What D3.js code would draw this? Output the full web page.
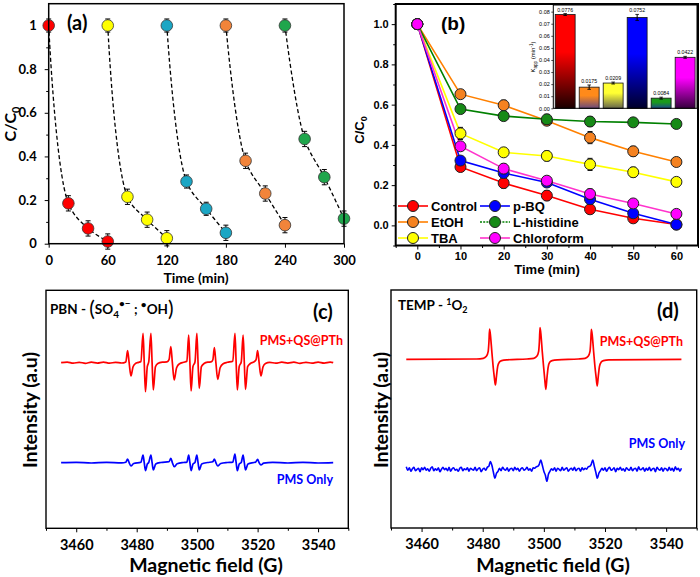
<!DOCTYPE html>
<html><head><meta charset="utf-8">
<script src="https://cdn.jsdelivr.net/npm/d3@7/dist/d3.min.js"></script>
<style>html,body{margin:0;padding:0;background:#fff}svg{display:block}</style>
</head><body>
<svg id="chart" width="700" height="577"></svg>
<script>
// ================= DATA =================
// Panel (a): five reuse cycles
const cycleTimes = [[0,20,40,60],[60,80,100,120],[120,140,160,180],[180,200,220,240],[240,260,280,300]];
const cycleValues = [[1,0.185,0.07,0.01],[1,0.215,0.11,0.025],[1,0.285,0.16,0.05],[1,0.38,0.23,0.085],[1,0.48,0.305,0.115]];
const cycleErrs = [[0.03,0.035,0.035,0.035],[0.03,0.035,0.035,0.035],[0.03,0.03,0.03,0.035],[0.03,0.035,0.035,0.035],[0.03,0.035,0.035,0.035]];
const cycleColors = ["#ff0000","#ffff00","#1ba6c4","#f2843a","#1fa64c"];
const aXTicks = [0,60,120,180,240,300];
const aYTicks = [0,0.2,0.4,0.6,0.8,1];

// Panel (b): scavenger tests
const scavTimes = [0,10,20,30,40,50,60];
const scavNames = ["Control","EtOH","TBA","p-BQ","L-histidine","Chloroform"];
const controlVals = [1,0.29,0.21,0.148,0.08,0.035,0.004];
const etohVals    = [1,0.652,0.597,0.52,0.436,0.368,0.315];
const tbaVals     = [1,0.457,0.363,0.345,0.303,0.264,0.216];
const pbqVals     = [1,0.322,0.26,0.213,0.13,0.06,0.004];
const histVals    = [1,0.578,0.543,0.527,0.516,0.512,0.504];
const chloroVals  = [1,0.393,0.282,0.222,0.156,0.109,0.057];
const controlErr = [0,0.015,0.025,0.025,0.02,0.015,0.01];
const etohErr    = [0,0.02,0.025,0.02,0.03,0.025,0.015];
const tbaErr     = [0,0.03,0.02,0.025,0.03,0.025,0.015];
const pbqErr     = [0,0.02,0.02,0.02,0.025,0.02,0.01];
const histErr    = [0,0.02,0.02,0.025,0.025,0.02,0.015];
const chloroErr  = [0,0.02,0.025,0.02,0.025,0.02,0.015];
const scavLineColors = ["#ff0000","#ff8000","#ffff00","#0000ff","#008000","#ff33cc"];
const scavFillColors = ["#ff0000","#f58220","#ffff00","#0000ff","#168a16","#ff00ff"];
const bXTicks = [0,10,20,30,40,50,60];
const bYTicks = [0,0.2,0.4,0.6,0.8,1.0];

// Inset: apparent rate constants
const kValues = [0.0776,0.0175,0.0209,0.0752,0.0084,0.0422];
const kErrs   = [0.0008,0.0018,0.0008,0.0025,0.0008,0.0008];
const kLabels = ["0.0776","0.0175","0.0209","0.0752","0.0084","0.0422"];
const kTopColors = ["#ff0000","#ff8a1a","#ffff33","#0000ff","#1a9a1a","#ff00ff"];
const kBottomColors = ["#1a0000","#6a4a7a","#66664a","#00002a","#1a4a8a","#36003e"];
const kTicks = [0,0.01,0.02,0.03,0.04,0.05,0.06,0.07,0.08];

// Panel (c): PBN spin trap, [field G, relative intensity]
const pbnRed = [
[3455,0],[3457,0.6],[3459,-0.5],[3461,0.4],[3463,-0.6],[3465,0.5],[3467,-0.4],[3469,0.6],[3471,-0.5],[3473,0.4],[3475,-0.3],[3476.4,0.8],
[3477.0,12],[3477.5,0],[3478.1,-13.3],[3478.8,-4],[3479.6,-0.8],[3480.6,0.3],[3481.4,1.2],
[3482.1,29.3],[3482.5,0],[3482.9,-29],[3483.5,-4],[3484.0,1],
[3484.7,29.3],[3485.1,0],[3485.5,-27.3],[3486.2,-4],[3487,-0.8],[3488.5,0.5],[3490,0.8],[3490.7,3],
[3491.3,16],[3491.8,0],[3492.4,-17.3],[3493.2,-5],[3494.2,-1],[3495.5,0.4],[3496.6,1.5],
[3497.2,27.7],[3497.6,0],[3498.0,-28.3],[3498.6,-4],[3499.3,1],
[3499.9,29.3],[3500.3,0],[3500.7,-25.7],[3501.4,-4],[3502.3,-0.8],[3503.5,0.5],[3504.6,0.8],[3505.2,3],
[3505.7,15],[3506.2,0],[3506.8,-16.7],[3507.6,-5],[3508.6,-1],[3510,0.4],[3511.8,1.5],
[3512.5,29.3],[3512.9,0],[3513.3,-27.3],[3513.9,-4],[3514.6,1],
[3515.2,27.7],[3515.6,0],[3516.0,-26.7],[3516.7,-4],[3517.6,-0.8],[3518.8,0.8],
[3519.5,3],[3520.0,12],[3520.5,0],[3521.1,-13.3],[3521.8,-4],[3522.6,-0.8],[3524,0.4],[3526,-0.5],[3528,0.5],[3530,-0.4],[3532,0.5],[3534,-0.6],[3536,0.4],[3538,-0.5],[3540,0.6],[3542,-0.4],[3544,0.5],[3545,0]
];
const pbnBlue = [
[3455,0],[3460,0.3],[3465,-0.3],[3470,0.3],[3475,-0.2],[3476.4,0.4],
[3477.0,3.7],[3477.5,0],[3478.1,-3.3],[3479,-0.8],[3481.4,0.4],
[3482.1,7.7],[3482.5,0],[3482.9,-8],[3483.5,-1.5],[3484.0,0.4],
[3484.7,7.7],[3485.1,0],[3485.5,-7.3],[3486.3,-1.2],[3488,0.2],[3490.7,1],
[3491.3,4.3],[3491.8,0],[3492.4,-4],[3493.4,-1],[3495.5,0.2],[3496.6,0.6],
[3497.2,7.7],[3497.6,0],[3498.0,-8],[3498.6,-1.5],[3499.3,0.4],
[3499.9,7.7],[3500.3,0],[3500.7,-7.3],[3501.5,-1.2],[3503.5,0.2],[3505.2,1],
[3505.7,3.7],[3506.2,0],[3506.8,-3.3],[3507.8,-0.8],[3510,0.2],[3511.8,0.6],
[3512.5,8.7],[3512.9,0],[3513.3,-8],[3513.9,-1.5],[3514.6,0.4],
[3515.2,7.7],[3515.6,0],[3516.0,-7.3],[3516.8,-1.2],[3519.4,0.8],
[3520.0,3.3],[3520.5,0],[3521.1,-2.3],[3522,-0.5],[3525,0.3],[3530,-0.3],[3535,0.3],[3540,-0.3],[3545,0]
];

// Panel (d): TEMP spin trap
const tempRed = [
[3455,0],[3478,0.3],[3480.2,1],[3481.2,3],[3481.8,8],[3482.05,18],[3482.25,30.3],[3482.6,22],[3483.0,7],[3483.2,0],[3483.4,-7],[3483.8,-18],[3484.15,-25.7],[3484.5,-17],[3484.9,-7],[3485.4,-3],[3486.2,-1.3],[3488,-0.5],
[3494.5,0.3],[3496.7,1],[3497.7,3],[3498.3,8],[3498.55,18],[3498.75,31.7],[3499.1,23],[3499.5,7],[3499.7,0],[3499.9,-7],[3500.3,-20],[3500.65,-30],[3501.0,-19],[3501.4,-8],[3501.9,-3],[3502.7,-1.3],[3504.5,-0.5],
[3511.3,0.3],[3513.5,1],[3514.5,3],[3515.1,8],[3515.35,18],[3515.55,30],[3515.9,22],[3516.3,7],[3516.5,0],[3516.7,-7],[3517.1,-18],[3517.45,-26.7],[3517.8,-17],[3518.2,-7],[3518.7,-3],[3519.5,-1.3],[3521.3,-0.5],
[3545,0]
];
const tempBlueStart = 3455, tempBlueStep = 0.5;
const tempBlue = [
 2.5,-1,1.5,-2,0.5,2,-1.5,0,1,-2.5,
 1.5,-0.5,2,-1,0.5,-2,1,2.5,-1.5,0.5,
 -1,1.5,-2.5,0,2,-0.5,1,-1.5,2,-2,
 0.5,1.5,-1,0,-2,1,2,-1.5,0.5,-0.5,
 1.5,-2,1,0,-1,2,-1.5,0.5,1.5,-2.5,
 0,1,-1,2,3,7.7,4,-3,-9,-4,
 -2,1,-1.5,2,0,-1,1.5,-2,0.5,1,
 -1.5,2,-0.5,1,-2,0.5,1.5,-1,0,2,
 -1,0.5,-2,1.5,1,2.5,3,5,9.3,4,
 -2,-6,-12,-5,-2,0.5,-1,1.5,-2,1,
 0,-1.5,2,-1,0.5,1.5,-2,0,1,-1,
 2,-1.5,0.5,1,-2,1.5,-0.5,1,0,2.5,
 3,5,9.3,3,-3,-9,-4,-1.5,1,-1,
 1.5,-2,0.5,2,-1,0,1.5,-2.5,1,-0.5,
 2,-1,0.5,-2,1.5,0,-1,2,-1.5,0.5,
 1,-2,2.5,-0.5,0,1.5,-2,1,-1,2,
 -1.5,0.5,1,-2.5,2,0,-1,1.5,-2,1,
 0.5,-1.5,2,-1,1,-2,2.5,-0.5,1,-2,
 1
];
const eprTicks = [3460,3480,3500,3520,3540];
const eprMinor = [3450,3470,3490,3510,3530,3550];

// ================= DRAWING =================
const svg = d3.select("#chart");
const FL = "Lato, 'Open Sans', sans-serif";
const FA = "'Liberation Sans', Arial, sans-serif";

function box(x0,y0,x1,y1,w){
  svg.append("rect").attr("x",x0).attr("y",y0).attr("width",x1-x0).attr("height",y1-y0)
    .attr("fill","none").attr("stroke","#000").attr("stroke-width",w);
}
function styleAxis(g,font,size,weight){
  g.select(".domain").remove();
  g.selectAll("text").attr("font-family",font).attr("font-size",size).attr("font-weight",weight).attr("fill","#000");
  g.selectAll("line").attr("stroke","#000").attr("stroke-width",1);
}
function errBars(g,xs,ys,es,sx,sy,cap){
  xs.forEach((t,i)=>{
    if(!es[i]) return;
    const x=sx(t), y1=sy(ys[i]+es[i]), y2=sy(ys[i]-es[i]);
    g.append("line").attr("x1",x).attr("x2",x).attr("y1",y1).attr("y2",y2).attr("stroke","#000").attr("stroke-width",1);
    [y1,y2].forEach(y=>g.append("line").attr("x1",x-cap).attr("x2",x+cap).attr("y1",y).attr("y2",y).attr("stroke","#000").attr("stroke-width",1));
  });
}

// ---------- Panel (a) ----------
const ax = d3.scaleLinear().domain([0,300]).range([48.7,344]);
const ay = d3.scaleLinear().domain([0,1.1]).range([243.7,3.7]);
{
  const g = svg.append("g");
  const gx = g.append("g").attr("transform","translate(0,243.7)")
    .call(d3.axisBottom(ax).tickValues(aXTicks).tickSize(4).tickPadding(8).tickFormat(d3.format("d")));
  styleAxis(gx,FL,13,700);
  const gy = g.append("g").attr("transform","translate(48.7,0)")
    .call(d3.axisLeft(ay).tickValues(aYTicks).tickSize(4).tickPadding(8).tickFormat(d3.format("~g")));
  styleAxis(gy,FL,13,700);
  const gm = g.append("g").attr("transform","translate(48.7,0)")
    .call(d3.axisLeft(ay).tickValues([0.1,0.3,0.5,0.7,0.9]).tickSize(2.5).tickFormat(""));
  styleAxis(gm,FL,13,700);
  box(48.7,3.7,344,243.7,1.5);
  const line = d3.line().x(d=>ax(d[0])).y(d=>ay(d[1])).curve(d3.curveCatmullRom.alpha(0.5));
  cycleTimes.forEach((ts,c)=>{
    g.append("path").attr("d",line(ts.map((t,i)=>[t,cycleValues[c][i]])))
      .attr("fill","none").attr("stroke","#000").attr("stroke-width",1.3).attr("stroke-dasharray","4,2.5");
  });
  cycleTimes.forEach((ts,c)=>{
    errBars(g,ts,cycleValues[c],cycleErrs[c],ax,ay,2.5);
    ts.forEach((t,i)=>{
      g.append("circle").attr("cx",ax(t)).attr("cy",ay(cycleValues[c][i])).attr("r",5.8)
        .attr("fill",cycleColors[c]).attr("stroke","#333").attr("stroke-width",0.8);
    });
  });
  g.append("text").attr("x",67).attr("y",30).attr("font-family",FL).attr("font-weight",700).attr("font-size",20).text("(a)");
  const yl = g.append("text").attr("transform","translate(16,124) rotate(-90)").attr("text-anchor","middle")
    .attr("font-family",FL).attr("font-weight",700).attr("font-size",16);
  yl.append("tspan").text("C/C");
  yl.append("tspan").attr("font-size",11).attr("dy",4).text("0");
  g.append("text").attr("x",196).attr("y",283).attr("text-anchor","middle").attr("font-family",FL)
    .attr("font-weight",700).attr("font-size",14).text("Time (min)");
}

// ---------- Panel (b) ----------
const bx = d3.scaleLinear().domain([-5,65]).range([395.7,698]);
const by = d3.scaleLinear().domain([-0.1,1.1]).range([245.5,4]);
{
  const g = svg.append("g");
  const gx = g.append("g").attr("transform","translate(0,245.5)")
    .call(d3.axisBottom(bx).tickValues(bXTicks).tickSize(4).tickPadding(2.5).tickFormat(d3.format("d")));
  styleAxis(gx,FA,11,700);
  const gxm = g.append("g").attr("transform","translate(0,245.5)")
    .call(d3.axisBottom(bx).tickValues([-5,5,15,25,35,45,55,65]).tickSize(2.5).tickFormat(""));
  styleAxis(gxm,FA,11,700);
  const gy = g.append("g").attr("transform","translate(395.7,0)")
    .call(d3.axisLeft(by).tickValues(bYTicks).tickSize(4).tickPadding(3).tickFormat(d3.format(".1f")));
  styleAxis(gy,FA,11,700);
  const gym = g.append("g").attr("transform","translate(395.7,0)")
    .call(d3.axisLeft(by).tickValues([-0.1,0.1,0.3,0.5,0.7,0.9,1.1]).tickSize(2.5).tickFormat(""));
  styleAxis(gym,FA,11,700);
  box(395.7,4,698,245.5,2);

  const series = [controlVals,etohVals,tbaVals,pbqVals,histVals,chloroVals];
  const errs = [controlErr,etohErr,tbaErr,pbqErr,histErr,chloroErr];
  const line = d3.line().x((d,i)=>bx(scavTimes[i])).y(d=>by(d));
  series.forEach((s,k)=>{
    g.append("path").attr("d",line(s)).attr("fill","none").attr("stroke",scavLineColors[k]).attr("stroke-width",1.6);
  });
  series.forEach((s,k)=>{
    errBars(g,scavTimes,s,errs[k],bx,by,2.5);
    s.forEach((v,i)=>g.append("circle").attr("cx",bx(scavTimes[i])).attr("cy",by(v)).attr("r",5.5)
      .attr("fill",scavFillColors[k]).attr("stroke","#222").attr("stroke-width",1));
  });
  // legend
  const legX = [398,480], legY = [206,222,238];
  scavNames.forEach((n,k)=>{
    const col = Math.floor(k/3), row = k%3;
    const x0 = legX[col], y0 = legY[row];
    g.append("line").attr("x1",x0).attr("x2",x0+30).attr("y1",y0).attr("y2",y0)
      .attr("stroke",scavLineColors[k]).attr("stroke-width",1.6).attr("stroke-dasharray",k===4?"2,1.2":null);
    g.append("circle").attr("cx",x0+15).attr("cy",y0).attr("r",5.5).attr("fill",scavFillColors[k]).attr("stroke","#222").attr("stroke-width",1);
    g.append("text").attr("x",x0+33).attr("y",y0+5).attr("font-family",FA).attr("font-weight",700).attr("font-size",13).text(n);
  });
  g.append("text").attr("x",441).attr("y",30).attr("font-family",FA).attr("font-weight",700).attr("font-size",19).text("(b)");
  const yl = g.append("text").attr("transform","translate(364,130) rotate(-90)").attr("text-anchor","middle")
    .attr("font-family",FA).attr("font-weight",700).attr("font-size",13);
  yl.append("tspan").text("C/C");
  yl.append("tspan").attr("font-size",9).attr("dy",3).text("0");
  g.append("text").attr("x",547).attr("y",274).attr("text-anchor","middle").attr("font-family",FA)
    .attr("font-weight",700).attr("font-size",13).text("Time (min)");

  // inset
  const ix = d3.scaleBand().domain(scavNames).range([553.3,697]).paddingInner(0.17).paddingOuter(0.08);
  const iy = d3.scaleLinear().domain([0,0.0855]).range([108.3,5]);
  const defs = svg.append("defs");
  kTopColors.forEach((c,i)=>{
    const lg = defs.append("linearGradient").attr("id","kg"+i).attr("x1",0).attr("y1",0).attr("x2",0).attr("y2",1);
    lg.append("stop").attr("offset","0%").attr("stop-color",c);
    lg.append("stop").attr("offset","40%").attr("stop-color",c);
    lg.append("stop").attr("offset","100%").attr("stop-color",kBottomColors[i]);
  });
  g.append("rect").attr("x",553.3).attr("y",5).attr("width",697-553.3).attr("height",103.3).attr("fill","#fff");
  const gi = g.append("g").attr("transform","translate(553.3,0)")
    .call(d3.axisLeft(iy).tickValues(kTicks).tickSize(2).tickPadding(1.5).tickFormat(d3.format(".2f")));
  styleAxis(gi,FA,5.5,400);
  gi.selectAll("line").attr("stroke-width",0.7);
  kValues.forEach((v,i)=>{
    const n = scavNames[i];
    g.append("rect").attr("x",ix(n)).attr("y",iy(v)).attr("width",ix.bandwidth()).attr("height",iy(0)-iy(v))
      .attr("fill","url(#kg"+i+")").attr("stroke","#111").attr("stroke-width",0.8);
    const cx = ix(n)+ix.bandwidth()/2;
    const y1 = iy(v+kErrs[i]), y2 = iy(v-kErrs[i]);
    g.append("line").attr("x1",cx).attr("x2",cx).attr("y1",y1).attr("y2",y2).attr("stroke","#000").attr("stroke-width",1);
    [y1,y2].forEach(y=>g.append("line").attr("x1",cx-1.8).attr("x2",cx+1.8).attr("y1",y).attr("y2",y).attr("stroke","#000").attr("stroke-width",0.8));
    g.append("text").attr("x",cx).attr("y",y1-2).attr("text-anchor","middle").attr("font-family",FA).attr("font-size",5.2).text(kLabels[i]);
  });
  g.append("rect").attr("x",553.3).attr("y",5).attr("width",697-553.3).attr("height",103.3).attr("fill","none").attr("stroke","#000").attr("stroke-width",1);
  const il = g.append("text").attr("transform","translate(535,57) rotate(-90)").attr("text-anchor","middle")
    .attr("font-family",FA).attr("font-size",6);
  il.append("tspan").text("K");
  il.append("tspan").attr("font-size",4.5).attr("dy",1.5).text("app");
  il.append("tspan").attr("dy",-1.5).text(" (min");
  il.append("tspan").attr("font-size",4.5).attr("dy",-2.5).text("-1");
  il.append("tspan").attr("dy",2.5).text(")");
}

// ---------- Panels (c) and (d) ----------
function eprPanel(x0,x1,y0,y1){
  const sx = d3.scaleLinear().domain([3450,3550]).range([x0,x1]);
  const sy = d3.scaleLinear().domain([0,238]).range([y1,y0]);
  const g = svg.append("g");
  const gx = g.append("g").attr("transform",`translate(0,${y1})`)
    .call(d3.axisBottom(sx).tickValues(eprTicks).tickSize(4).tickPadding(7).tickFormat(d3.format("d")));
  styleAxis(gx,FL,14.5,700);
  const gm = g.append("g").attr("transform",`translate(0,${y1})`)
    .call(d3.axisBottom(sx).tickValues(eprMinor).tickSize(2.5).tickFormat(""));
  styleAxis(gm,FL,14,700);
  box(x0,y0,x1,y1,1.4);
  return {g,sx,sy};
}
const eprLine = (sx,sy,off)=>d3.line().x(d=>sx(d[0])).y(d=>sy(d[1]+off)).curve(d3.curveMonotoneX);

{
  const {g,sx,sy} = eprPanel(46,348.3,290.3,528.3);
  g.append("path").attr("d",eprLine(sx,sy,165.6)(pbnRed)).attr("fill","none").attr("stroke","#ff0000").attr("stroke-width",1.7);
  g.append("path").attr("d",eprLine(sx,sy,65.6)(pbnBlue)).attr("fill","none").attr("stroke","#0000ff").attr("stroke-width",1.7);
  g.append("text").attr("x",343).attr("y",345).attr("text-anchor","end").attr("fill","#ff0000").attr("font-family",FL).attr("font-weight",700).attr("font-size",12.5).text("PMS+QS@PTh");
  g.append("text").attr("x",333).attr("y",484).attr("text-anchor","end").attr("fill","#0000ff").attr("font-family",FL).attr("font-weight",700).attr("font-size",12.5).text("PMS Only");
  g.append("text").attr("x",313).attr("y",319).attr("font-family",FL).attr("font-weight",700).attr("font-size",20).text("(c)");
  const t = g.append("text").attr("x",50).attr("y",314).attr("font-family",FL).attr("font-weight",700).attr("font-size",13.5);
  t.append("tspan").text("PBN - ");
  t.append("tspan").attr("font-size",21).attr("font-weight",400).attr("dy",1.5).text("(");
  t.append("tspan").attr("dy",-1.5).text("SO");
  t.append("tspan").attr("font-size",10).attr("dy",4).text("4");
  t.append("tspan").attr("font-size",10).attr("dy",-11).text("\u2022\u2212");
  t.append("tspan").attr("dy",7).text(" ; ");
  t.append("tspan").attr("font-size",10).attr("dy",-6).text("\u2022");
  t.append("tspan").attr("dy",6).text("OH");
  t.append("tspan").attr("font-size",21).attr("font-weight",400).attr("dy",1.5).text(")");
  g.append("text").attr("transform","translate(37,410) rotate(-90)").attr("text-anchor","middle").attr("font-family",FL)
    .attr("font-weight",700).attr("font-size",19.5).text("Intensity (a.u)");
  g.append("text").attr("x",206).attr("y",572).attr("text-anchor","middle").attr("font-family",FL)
    .attr("font-weight",700).attr("font-size",19.5).text("Magnetic field (G)");
}
{
  const {g,sx,sy} = eprPanel(391,696.7,290,528);
  g.append("path").attr("d",eprLine(sx,sy,168.7)(tempRed)).attr("fill","none").attr("stroke","#ff0000").attr("stroke-width",1.7);
  const bluePts = tempBlue.map((v,i)=>[tempBlueStart+i*tempBlueStep,v]);
  g.append("path").attr("d",eprLine(sx,sy,58.7)(bluePts)).attr("fill","none").attr("stroke","#0000ff").attr("stroke-width",1.6);
  g.append("text").attr("x",683).attr("y",346).attr("text-anchor","end").attr("fill","#ff0000").attr("font-family",FL).attr("font-weight",700).attr("font-size",12.5).text("PMS+QS@PTh");
  g.append("text").attr("x",685).attr("y",448).attr("text-anchor","end").attr("fill","#0000ff").attr("font-family",FL).attr("font-weight",700).attr("font-size",12.5).text("PMS Only");
  g.append("text").attr("x",657).attr("y",318).attr("font-family",FL).attr("font-weight",700).attr("font-size",20).text("(d)");
  const t = g.append("text").attr("x",398).attr("y",310).attr("font-family",FL).attr("font-weight",700).attr("font-size",13.5);
  t.append("tspan").text("TEMP - ");
  t.append("tspan").attr("font-size",9).attr("dy",-5.5).text("1");
  t.append("tspan").attr("dy",5.5).text("O");
  t.append("tspan").attr("font-size",9).attr("dy",3).text("2");
  g.append("text").attr("transform","translate(388,410) rotate(-90)").attr("text-anchor","middle").attr("font-family",FL)
    .attr("font-weight",700).attr("font-size",19.5).text("Intensity (a.u)");
  g.append("text").attr("x",553).attr("y",572).attr("text-anchor","middle").attr("font-family",FL)
    .attr("font-weight",700).attr("font-size",19.5).text("Magnetic field (G)");
}
</script></body></html>
